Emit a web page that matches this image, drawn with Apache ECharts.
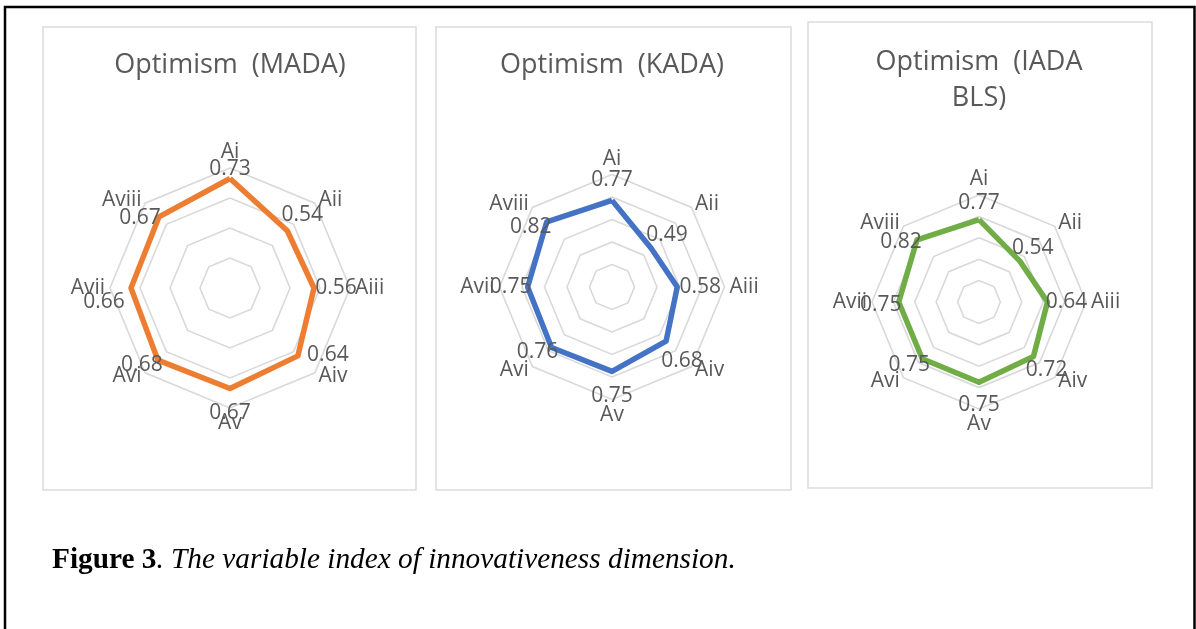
<!DOCTYPE html>
<html>
<head>
<meta charset="utf-8">
<title>The variable index of innovativeness dimension</title>
<script src="https://cdn.jsdelivr.net/npm/echarts@6/dist/echarts.min.js"></script>
<style>
  html, body { margin: 0; padding: 0; background: #ffffff; }
  #chart { width: 1196px; height: 629px; }
</style>
</head>
<body>
<div id="chart"></div>
<script>
// Indicator names, clockwise from the top
const axes = ['Ai', 'Aii', 'Aiii', 'Aiv', 'Av', 'Avi', 'Avii', 'Aviii'];

// Optimism index per indicator, one array per group
const madaValues = [0.73, 0.54, 0.56, 0.64, 0.67, 0.68, 0.66, 0.67];
const kadaValues = [0.77, 0.49, 0.58, 0.68, 0.75, 0.76, 0.75, 0.82];
const iadaValues = [0.77, 0.54, 0.64, 0.72, 0.75, 0.75, 0.75, 0.82];

// Panel titles and axis maxima
const titles = ['Optimism  (MADA)', 'Optimism  (KADA)', 'Optimism  (IADA\nBLS)'];
const axisMax = [0.8, 1.0, 1.0];
const splitCounts = [4, 5, 5];

// Appearance of each panel
const panels = [
  { values: madaValues, color: '#ED7D31', center: [230, 288], radius: 120,
    box: [43, 27, 373, 463], titleY: 65,
    labelOffsets: [[0, -9], [15, -16], [22, 0], [30, -1], [0, 25], [-16, 5], [-27, 14], [-19, 1]] },
  { values: kadaValues, color: '#4472C4', center: [612, 287], radius: 112.5,
    box: [436, 27, 355, 463], titleY: 65,
    labelOffsets: [[0, -20], [16, -13], [23, 0], [16, 20], [0, 25], [-14, 5], [-17, 0], [-16, 5]] },
  { values: iadaValues, color: '#70AD47', center: [979, 302], radius: 107,
    box: [808, 22, 344, 466], titleY: 80,
    labelOffsets: [[0, -17], [13, -13], [19, 0], [13, 14], [0, 23], [-13, 6], [-18, 3], [-16, 2]] }
];

const textColor = '#595959';
const gridColor = '#d9d9d9';
const fontFamily = '"Open Sans", "Noto Sans", sans-serif';

// ECharts places radar indicators counter-clockwise; this order puts them clockwise
const ccwOrder = [0, 7, 6, 5, 4, 3, 2, 1];

const radar = [], polar = [], angleAxis = [], radiusAxis = [], series = [], graphic = [];

panels.forEach(function (p, k) {
  radar.push({
    center: p.center,
    radius: p.radius,
    startAngle: 90,
    shape: 'polygon',
    splitNumber: splitCounts[k],
    nameGap: 5,
    indicator: ccwOrder.map(function (i) { return { name: axes[i], min: 0, max: axisMax[k] }; }),
    axisName: { color: textColor, fontSize: 21, fontFamily: fontFamily },
    axisLine: { show: false },
    axisTick: { show: false },
    axisLabel: { show: false },
    splitArea: { show: false },
    splitLine: { lineStyle: { color: gridColor, width: 1.6 } }
  });

  // polar twin of the radar, used to place the value labels at each vertex
  polar.push({ center: p.center, radius: p.radius });
  angleAxis.push({ polarIndex: k, type: 'value', min: 0, max: axes.length,
    startAngle: 90, clockwise: true, show: false });
  radiusAxis.push({ polarIndex: k, type: 'value', min: 0, max: axisMax[k], show: false });

  series.push({
    type: 'radar',
    radarIndex: k,
    symbol: 'none',
    lineStyle: { color: p.color, width: 5.5 },
    data: [{ value: ccwOrder.map(function (i) { return p.values[i]; }) }]
  });

  series.push({
    type: 'scatter',
    coordinateSystem: 'polar',
    polarIndex: k,
    symbolSize: 0,
    itemStyle: { opacity: 1 },
    label: {
      show: true,
      position: 'inside',
      color: textColor,
      opacity: 1,
      fontSize: 21,
      fontFamily: fontFamily,
      formatter: function (d) { return d.value[0].toFixed(2); }
    },
    data: p.values.map(function (v, i) {
      return { value: [v, i], label: { offset: p.labelOffsets[i] } };
    })
  });

  // panel frame
  graphic.push({
    type: 'rect',
    shape: { x: p.box[0], y: p.box[1], width: p.box[2], height: p.box[3] },
    style: { fill: null, stroke: '#dcdcdc', lineWidth: 1.6 },
    silent: true
  });
  // panel title
  graphic.push({
    type: 'text',
    x: p.center[0],
    y: p.titleY,
    style: {
      text: titles[k], fill: textColor, fontSize: 27, fontFamily: fontFamily,
      align: 'center', verticalAlign: 'middle', lineHeight: 36
    },
    silent: true
  });
});

// outer figure frame
graphic.push({
  type: 'rect',
  shape: { x: 5, y: 7, width: 1189.5, height: 660 },
  style: { fill: null, stroke: '#000000', lineWidth: 2.5 },
  silent: true
});

// figure caption
graphic.push({
  type: 'text',
  x: 52,
  y: 560,
  style: {
    text: '{b|Figure 3}{i|. The variable index of innovativeness dimension.}',
    verticalAlign: 'middle',
    rich: {
      b: { fontFamily: '"Liberation Serif", serif', fontWeight: 'bold', fontSize: 29.3, fill: '#000000' },
      i: { fontFamily: '"Liberation Serif", serif', fontStyle: 'italic', fontSize: 29.3, fill: '#000000' }
    }
  },
  silent: true
});

const chart = echarts.init(document.getElementById('chart'), null, { renderer: 'canvas' });
chart.setOption({
  backgroundColor: '#ffffff',
  animation: false,
  radar: radar,
  polar: polar,
  angleAxis: angleAxis,
  radiusAxis: radiusAxis,
  series: series,
  graphic: graphic
});
</script>
</body>
</html>
